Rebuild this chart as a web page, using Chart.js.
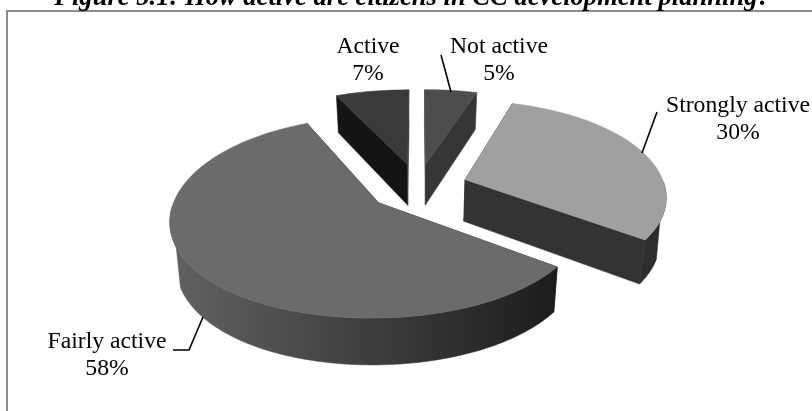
<!DOCTYPE html>
<html>
<head>
<meta charset="utf-8">
<style>
  html, body { margin: 0; padding: 0; background: #fff; overflow: hidden; }
  #wrap { position: relative; width: 812px; height: 411px; }
  #frame { position: absolute; left: 6px; top: 10px; right: -4px; bottom: -4px; border-left: 2px solid #8c8c8c; border-top: 2px solid #8c8c8c; }
  canvas { position: absolute; left: 0; top: 0; }
</style>
<script src="https://cdn.jsdelivr.net/npm/chart.js@4"></script>
</head>
<body>
<div id="wrap">
  <div id="frame"></div>
  <canvas id="pie" width="812" height="411"></canvas>
</div>
<script>
const chartTitle = 'Figure 5.1: How active are citizens in CC development planning?';
const categories = ['Not active', 'Strongly active', 'Fairly active', 'Active'];
const shares = [5, 30, 58, 7];

// --- slice styling ---
const explode = [50, 50, 50, 50];
const topColors = ['#4d4d4d', '#a0a0a0', '#6b6b6b', '#3a3a3a'];
const startFaceColors = ['#4d4d4d', '#2a2a2a', '#222222', '#141414'];
const endFaceColors = ['#363636', '#333333', '#222222', '#3a3a3a'];
const wallStops = [
  ['#363636', '#363636'],
  ['#333333', '#2c2c2c'],
  ['#626262', '#1c1c1c'],
  ['#141414', '#141414']
];

// --- label placement: [x, first baseline] and the leader line points ---
const labelAnchors = [[499, 53], [738, 112], [107, 348], [368, 53]];
const leaders = [
  [[441, 55], [451, 92]],
  [[657, 112], [642, 153]],
  [[173, 350], [189, 350], [203, 317]],
  []
];

// --- view of the tilted disc ---
const discRadius = 200;
const tilt = 0.481;
const tiltGrowth = 0.151;
const eyeDistance = 6.5;
const sliceDepth = 42;
const bottomShrink = 0.025;

function project(el, nx, nz, level) {
  const s = 1 / (1 - nz / eyeDistance);
  return {
    x: el.x + discRadius * nx * s * (1 - bottomShrink * level),
    y: el.y + discRadius * tilt * nz * (1 + tiltGrowth * nz) + level * sliceDepth * (1 + 0.1 * nz)
  };
}

function slicePoints(el, offset) {
  const mid = (el.startAngle + el.endAngle) / 2;
  const ox = Math.cos(mid) * offset / discRadius;
  const oz = Math.sin(mid) * offset / discRadius;
  const rim = [];
  const steps = Math.max(6, Math.round((el.endAngle - el.startAngle) * 40));
  for (let i = 0; i <= steps; i++) {
    const a = el.startAngle + (el.endAngle - el.startAngle) * i / steps;
    rim.push({ a, p: [ox + Math.cos(a), oz + Math.sin(a)] });
  }
  return { apex: [ox, oz], rim };
}

function fillPath(ctx, pts, fill) {
  ctx.beginPath();
  pts.forEach((p, i) => (i ? ctx.lineTo(p.x, p.y) : ctx.moveTo(p.x, p.y)));
  ctx.closePath();
  ctx.fillStyle = fill;
  ctx.fill();
  ctx.strokeStyle = fill;
  ctx.lineWidth = 0.5;
  ctx.stroke();
}

function drawSlice(ctx, el, i) {
  const { apex, rim } = slicePoints(el, el.options.offset);
  const up = p => project(el, p[0], p[1], 0);
  const down = p => project(el, p[0], p[1], 1);
  const first = rim[0].p;
  const last = rim[rim.length - 1].p;

  // cut faces first, the rim wall over them, the lid over everything
  fillPath(ctx, [up(apex), up(first), down(first), down(apex)], startFaceColors[i]);
  fillPath(ctx, [up(apex), up(last), down(last), down(apex)], endFaceColors[i]);

  const xs = rim.map(r => up(r.p).x);
  const grad = ctx.createLinearGradient(Math.min(...xs), 0, Math.max(...xs), 0);
  grad.addColorStop(0, wallStops[i][0]);
  grad.addColorStop(1, wallStops[i][1]);
  // the lower rim is tighter, so the wall outline leaves it further round the front
  const frontTop = rim.filter(r => Math.sin(r.a) > 0.02).map(r => up(r.p));
  const frontBottom = rim.filter(r => Math.sin(r.a) > 0.36).map(r => down(r.p));
  if (frontTop.length > 1 && frontBottom.length > 1) {
    fillPath(ctx, frontTop.concat(frontBottom.reverse()), grad);
  }

  fillPath(ctx, [up(apex)].concat(rim.map(r => up(r.p))), topColors[i]);
}

const tiltedPie = {
  id: 'tiltedPie',
  beforeDatasetsDraw(chart) {
    const ctx = chart.ctx;
    const arcs = chart.getDatasetMeta(0).data;
    // painted back to front
    [3, 0, 1, 2].forEach(i => drawSlice(ctx, arcs[i], i));
    return false;
  },
  afterDraw(chart) {
    const ctx = chart.ctx;
    ctx.save();
    ctx.fillStyle = '#000';
    ctx.textAlign = 'center';
    ctx.font = 'italic bold 26.6px "Liberation Serif"';
    ctx.fillText(chartTitle, 412.5, 5);

    ctx.font = '23.7px "Liberation Serif"';
    categories.forEach((name, i) => {
      const [x, y] = labelAnchors[i];
      ctx.fillText(name, x, y);
      ctx.fillText(shares[i] + '%', x, y + 27);
    });

    ctx.strokeStyle = '#000';
    ctx.lineWidth = 1.6;
    leaders.forEach(line => {
      if (!line.length) return;
      ctx.beginPath();
      line.forEach((p, k) => (k ? ctx.lineTo(p[0], p[1]) : ctx.moveTo(p[0], p[1])));
      ctx.stroke();
    });
    ctx.restore();
  }
};

new Chart(document.getElementById('pie'), {
  type: 'pie',
  data: {
    labels: categories,
    datasets: [{ data: shares, offset: explode, backgroundColor: topColors, borderWidth: 0 }]
  },
  options: {
    responsive: false,
    animation: false,
    layout: { padding: { left: 24, top: 0, bottom: 37 } },
    plugins: { legend: { display: false }, tooltip: { enabled: false } }
  },
  plugins: [tiltedPie]
});
</script>
</body>
</html>
